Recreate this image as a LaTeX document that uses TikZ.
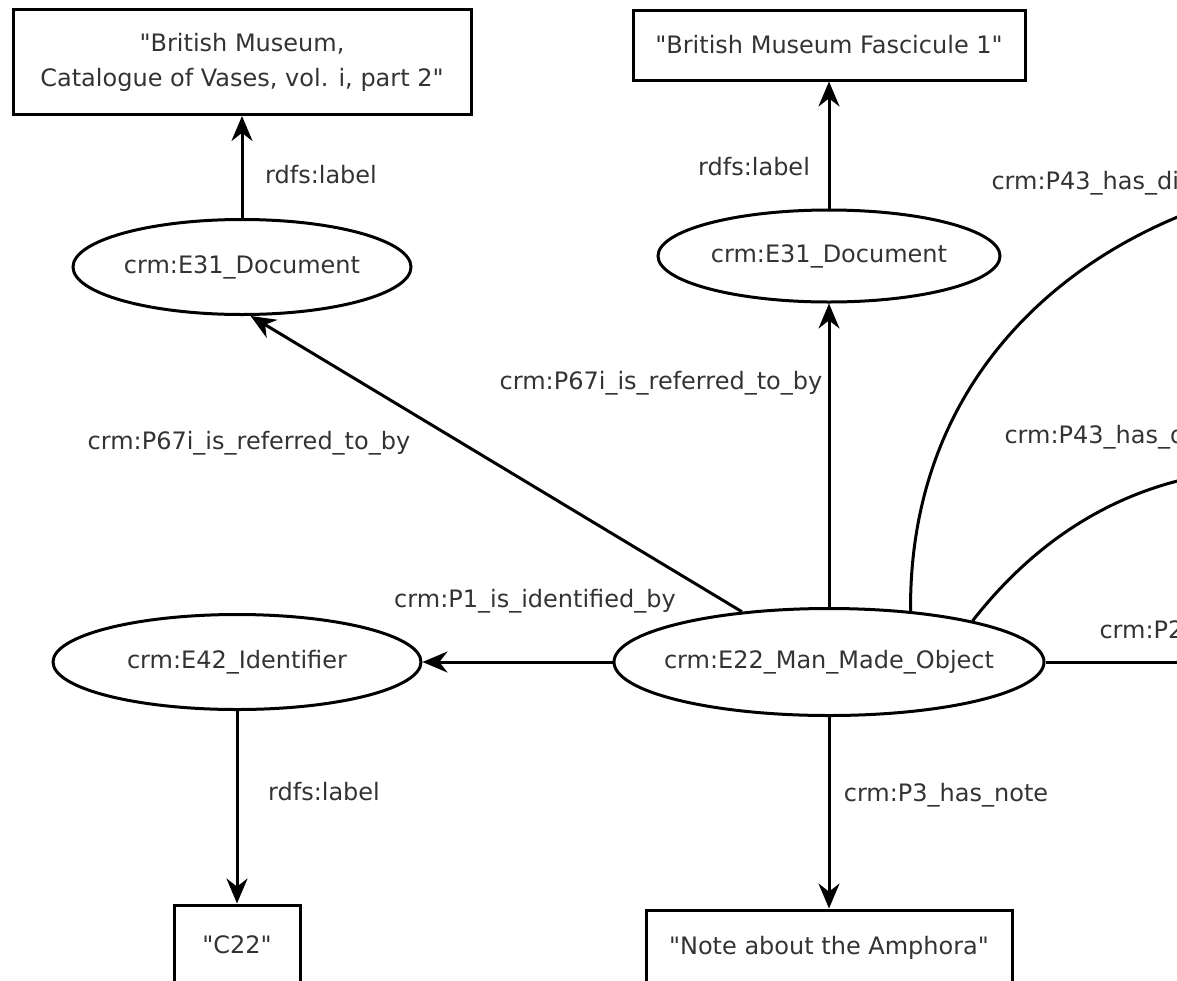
\documentclass[tikz,border=0pt]{standalone}
\usepackage{fontspec}
\setmainfont{DejaVu Sans}
\usetikzlibrary{shapes.geometric,arrows.meta}

\begin{document}
\begin{tikzpicture}[x=0.5pt,y=-0.5pt,line width=1.5pt,>={Stealth[length=12.5pt,width=10.5pt]}]
	\tikzstyle{cls}=[draw,shape=ellipse,inner sep=0pt,text=black!80,font=\fontsize{12}{14}\selectfont]
	\tikzstyle{lit}=[draw,shape=rectangle,inner sep=0pt,align=center,text=black!80,font=\fontsize{12}{17.5}\selectfont]
	\tikzstyle{prop}=[inner sep=0pt,text=black!80,font=\fontsize{12}{14}\selectfont]

	\useasboundingbox (0,0) rectangle (1177,980);
	\clip (0,0) rectangle (1177,980);

	% literals
	\node[lit,minimum width=229pt,minimum height=52.5pt](lit1) at (242,62){\textquotedbl British Museum,\\Catalogue of Vases, vol. i, part 2\textquotedbl};
	\node[lit,minimum width=196pt,minimum height=35pt](lit2) at (829,45){\textquotedbl British Museum Fascicule 1\textquotedbl};
	\node[lit,minimum width=63pt,minimum height=40pt](c22) at (237,945){\textquotedbl C22\textquotedbl};
	\node[lit,minimum width=183pt,minimum height=38pt](note) at (829,948){\textquotedbl Note about the Amphora\textquotedbl};

	% classes
	\node[cls,minimum width=169pt,minimum height=47.5pt](doc1) at (242,267){crm:E31\_Document};
	\node[cls,minimum width=171pt,minimum height=46pt](doc2) at (829,256){crm:E31\_Document};
	\node[cls,inner xsep=-7pt,minimum width=215pt,minimum height=53.5pt](obj) at (829,662){crm:E22\_Man\_Made\_Object};
	\node[cls,minimum width=184pt,minimum height=47.5pt](ident) at (237,662){crm:E42\_Identifier};

	\coordinate (p43a) at (1190,212);
	\coordinate (p43b) at (1190,478);
	\coordinate (p2) at (1190,662);

	\draw[->] (doc1) -- (lit1);
	\draw[->] (doc2) -- (lit2);
	\draw[->] (obj) -- (doc2);
	\draw[->] (obj.150) -- (doc1.280);
	\draw[->] (obj) -- (ident);
	\draw[->] (ident) -- (c22);
	\draw[->] (obj) -- (note);

	\draw (obj.32) .. controls (909,400) and (1040,270) .. (p43a);
	\draw (obj.16) .. controls (1020,560) and (1090,500) .. (p43b);
	\draw (obj) -- (p2);

	% property labels
	\node[prop](r1) at (321,175){rdfs:label};
	\node[prop](r2) at (754,167){rdfs:label};
	\node[prop](p67a) at (661,383){crm:P67i\_is\_referred\_to\_by};
	\node[prop](p67b) at (249,443){crm:P67i\_is\_referred\_to\_by};
	\node[prop](p1) at (535,601){crm:P1\_is\_identified\_by};
	\node[prop](r3) at (324,792){rdfs:label};
	\node[prop](p3) at (946,795){crm:P3\_has\_note};
	\node[prop,anchor=west](p43c) at (990,183){crm:P43\_has\_dimension};
	\node[prop,anchor=west](p43d) at (1003,437){crm:P43\_has\_dimension};
	\node[prop,anchor=west](p2l) at (1098,632){crm:P2\_has\_type};

\end{tikzpicture}
\end{document}
